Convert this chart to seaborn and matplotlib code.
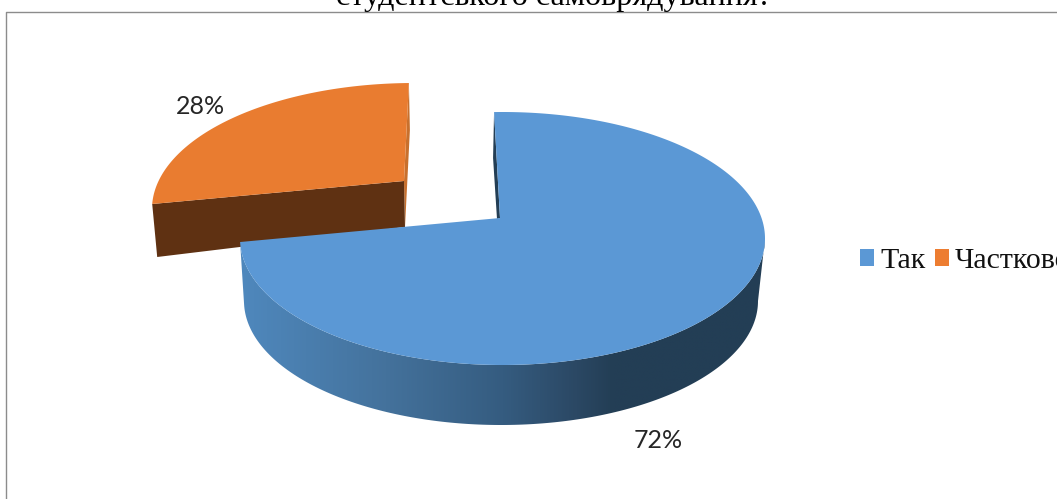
import numpy as np
import matplotlib
matplotlib.use("Agg")
import matplotlib.pyplot as plt
from matplotlib.colors import LinearSegmentedColormap
from matplotlib.patches import Patch, Polygon
import seaborn as sns

categories = ["Так", "Частково"]
values = [72, 28]
title_text = "студентського самоврядування?"

sns.set_theme(style="white")
palette = sns.color_palette(["#5B98D5", "#ED7D31"])

W, H = 1057, 499
fig = plt.figure(figsize=(W / 100, H / 100), dpi=100, facecolor="white")
ax = fig.add_axes([0, 0, 1, 1])
ax.set_xlim(0, W)
ax.set_ylim(H, 0)
ax.axis("off")

# Wedge sweep comes from the values: clockwise from 12 o'clock
fractions = np.array(values) / sum(values)
angle_edges = 90 - 360 * np.concatenate([[0], np.cumsum(fractions)])


def ray_points(apex, ell, angles, shear):
    cx, cy, rx, ry = ell
    pts = []
    for a in np.radians(angles):
        dx = rx * np.cos(a) + shear * ry * np.sin(a)
        dy = -ry * np.sin(a)
        ox, oy = (apex[0] - cx) / rx, (apex[1] - cy) / ry
        ux, uy = dx / rx, dy / ry
        A = ux**2 + uy**2
        B = 2 * (ox * ux + oy * uy)
        C = ox**2 + oy**2 - 1
        s = (-B + np.sqrt(B**2 - 4 * A * C)) / (2 * A)
        pts.append((apex[0] + s * dx, apex[1] + s * dy))
    return np.array(pts)


def poly(points, color, z):
    p = Polygon(points, closed=True, facecolor=color, edgecolor="none", zorder=z)
    ax.add_patch(p)
    return p


# ---------- Orange exploded slice ----------
o_apex = np.array([404.0, 181.0])
o_ell = (414.0, 209.0, 262.0, 126.0)
o_arc = ray_points(o_apex, o_ell, np.linspace(angle_edges[1] + 360, angle_edges[2] + 360, 90), 0.05)
o_top_corner = o_arc[-1]
o_left_corner = o_arc[0]
poly([o_top_corner, o_top_corner + (1, 47), o_apex + (1, 46), o_apex], "#C8702D", 2)
poly([o_left_corner, o_apex, o_apex + (1, 46), o_left_corner + (5, 53)], "#5F3112", 2)
poly(np.vstack([[o_apex], o_arc]), "#E97C30", 3)

# ---------- Blue slice ----------
b_apex = np.array([500.0, 218.0])
b_ell = (502.5, 238.5, 262.5, 126.5)
b_bot = (501.0, 301.0, 257.0, 124.0)
b_angles = np.linspace(angle_edges[0], angle_edges[1], 260)
b_arc = ray_points(b_apex, b_ell, b_angles, -0.056)
b_corner = b_arc[-1]
t0 = np.degrees(np.arctan2(-(b_corner[1] - b_ell[1]) / b_ell[3], (b_corner[0] - b_ell[0]) / b_ell[2])) % 360
t = np.radians(np.linspace(t0, 360, 200))
upper = np.c_[b_ell[0] + b_ell[2] * np.cos(t), b_ell[1] - b_ell[3] * np.sin(t)]
lower = np.c_[b_bot[0] + b_bot[2] * np.cos(t), b_bot[1] - b_bot[3] * np.sin(t)]
wall = poly(np.vstack([upper, lower[::-1]]), "none", 4)

wall_cmap = LinearSegmentedColormap.from_list(
    "wall",
    [(0.0, "#4F88BD"), (0.276, "#44729C"), (0.5, "#355C80"), (0.64, "#2B4864"),
     (0.71, "#233E55"), (1.0, "#233E55")],
)
grad = ax.imshow(np.linspace(0, 1, 512)[None, :], extent=(240, 766, 426, 230),
                 cmap=wall_cmap, aspect="auto", zorder=4, interpolation="bilinear")
grad.set_clip_path(wall)
ax.set_xlim(0, W)
ax.set_ylim(H, 0)

poly([b_arc[0], b_arc[0] + (-1, 46), b_apex + (-3, 1), b_apex], "#233E55", 5)
poly(np.vstack([[b_apex], b_arc]), palette[0], 6)

# ---------- Percent labels ----------
label_font = ["Lato", "DejaVu Sans"]
label_xy = [(658, 441), (200, 106)]
for (x, y), v in zip(label_xy, values):
    ax.text(x, y, f"{v}%", ha="center", va="center", fontsize=18,
            family=label_font, color="#262626", zorder=8)

# ---------- Chart frame (top and left edges only are in view) ----------
ax.plot([6, 6, W], [H, 12, 12], color="#8C8C8C", lw=1.0, zorder=1, clip_on=False)

# ---------- Clipped heading ----------
ax.text(553.5, 4.5, title_text, ha="center", va="baseline", fontsize=23.1,
        family=["Liberation Serif"], color="black", zorder=9)

# ---------- Legend ----------
handles = [Patch(facecolor=c, edgecolor="none") for c in palette]
leg = ax.legend(handles, categories, ncol=2, loc="center left",
                bbox_to_anchor=(860 / W, 1 - 261 / H), bbox_transform=ax.transAxes,
                frameon=False, borderpad=0, borderaxespad=0,
                handlelength=0.46, handleheight=0.5, handletextpad=0.22,
                columnspacing=0.31,
                prop={"family": "Liberation Serif", "size": 21.5})
for txt in leg.get_texts():
    txt.set_color("#111111")

fig.savefig("out.png", dpi=100, facecolor="white")
